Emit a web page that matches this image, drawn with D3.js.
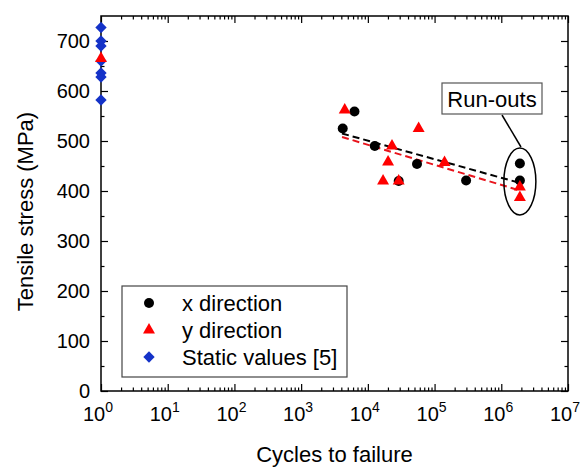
<!DOCTYPE html>
<html>
<head>
<meta charset="utf-8">
<script src="https://cdn.jsdelivr.net/npm/d3@7"></script>
<style>
  body { margin: 0; background: white; }
  text { font-family: "Liberation Sans", Arial, sans-serif; }
</style>
</head>
<body>
<div id="chart"></div>
<script>
// data
const xDirCycles = [4200, 6300, 12700, 29000, 54500, 297000, 1.9e6, 1.9e6];
const xDirStress = [525, 559, 490, 420, 454, 421, 455, 421];
const yDirCycles = [1, 4500, 16900, 20100, 23000, 29000, 57700, 141000, 1.9e6, 1.9e6];
const yDirStress = [665, 562, 420, 458, 490, 420, 525, 457, 408, 387];
const staticCycles = [1, 1, 1, 1, 1, 1, 1];
const staticStress = [727, 700, 690, 660, 636, 628, 582];
// fit lines (end points)
const fitCycles = [4100, 1.8e6];
const fitXStress = [515, 417];
const fitYStress = [508, 402];
const xTickExp = [0, 1, 2, 3, 4, 5, 6, 7];
const yTicks = [0, 100, 200, 300, 400, 500, 600, 700];
const legendLabels = ['x direction', 'y direction', 'Static values [5]'];

const width = 585, height = 468;
const margin = { top: 16, right: 17, bottom: 77, left: 101 };

const svg = d3.select('#chart')
  .append('svg')
  .attr('width', width)
  .attr('height', height)
  .style('background', 'white');

const xScale = d3.scaleLog()
  .domain([1, 1e7])
  .range([margin.left, width - margin.right]);

const yScale = d3.scaleLinear()
  .domain([0, 750])
  .range([height - margin.bottom, margin.top]);

const x0 = margin.left, x1 = width - margin.right;
const y0 = height - margin.bottom, y1 = margin.top;

// minor ticks
const majorX = xTickExp.map(e => Math.pow(10, e));
const minorX = [];
xTickExp.slice(0, -1).forEach(e => {
  for (let m = 2; m <= 9; m++) minorX.push(m * Math.pow(10, e));
});
const minorY = d3.range(50, 750, 100);

function styleAxis(g) {
  g.select('.domain').remove();
  g.selectAll('line').attr('stroke', '#000').attr('stroke-width', 1.2);
}

// bottom
svg.append('g').attr('transform', `translate(0,${y0})`)
  .call(d3.axisBottom(xScale).tickValues(majorX).tickSize(-7).tickFormat(''))
  .call(styleAxis);
svg.append('g').attr('transform', `translate(0,${y0})`)
  .call(d3.axisBottom(xScale).tickValues(minorX).tickSize(-3.5).tickFormat(''))
  .call(styleAxis);
// top
svg.append('g').attr('transform', `translate(0,${y1})`)
  .call(d3.axisTop(xScale).tickValues(majorX).tickSize(-7).tickFormat(''))
  .call(styleAxis);
svg.append('g').attr('transform', `translate(0,${y1})`)
  .call(d3.axisTop(xScale).tickValues(minorX).tickSize(-3.5).tickFormat(''))
  .call(styleAxis);
// left
svg.append('g').attr('transform', `translate(${x0},0)`)
  .call(d3.axisLeft(yScale).tickValues(yTicks).tickSize(-7).tickFormat(''))
  .call(styleAxis);
svg.append('g').attr('transform', `translate(${x0},0)`)
  .call(d3.axisLeft(yScale).tickValues(minorY).tickSize(-3.5).tickFormat(''))
  .call(styleAxis);
// right
svg.append('g').attr('transform', `translate(${x1},0)`)
  .call(d3.axisRight(yScale).tickValues(yTicks).tickSize(-7).tickFormat(''))
  .call(styleAxis);
svg.append('g').attr('transform', `translate(${x1},0)`)
  .call(d3.axisRight(yScale).tickValues(minorY).tickSize(-3.5).tickFormat(''))
  .call(styleAxis);

// frame
svg.append('rect')
  .attr('x', x0).attr('y', y1)
  .attr('width', x1 - x0).attr('height', y0 - y1)
  .attr('fill', 'none').attr('stroke', '#000').attr('stroke-width', 1.5);

// y tick labels
svg.append('g').selectAll('text')
  .data(yTicks).enter().append('text')
  .attr('x', x0 - 11)
  .attr('y', d => yScale(d))
  .attr('dy', '0.36em')
  .attr('text-anchor', 'end')
  .style('font-size', '20px')
  .text(d => d);

// x tick labels 10^n
const xl = svg.append('g').selectAll('text')
  .data(xTickExp).enter().append('text')
  .attr('x', d => xScale(Math.pow(10, d)) - 3)
  .attr('y', 421)
  .attr('text-anchor', 'middle')
  .style('font-size', '20px');
xl.append('tspan').text('10');
xl.append('tspan').attr('dy', -9).style('font-size', '14px').text(d => d);

// axis titles
svg.append('text')
  .attr('x', (x0 + x1) / 2)
  .attr('y', 462)
  .attr('text-anchor', 'middle')
  .style('font-size', '22px')
  .text('Cycles to failure');

svg.append('text')
  .attr('transform', `translate(33,${(y0 + y1) / 2 + 8})rotate(-90)`)
  .attr('text-anchor', 'middle')
  .style('font-size', '22px')
  .text('Tensile stress (MPa)');

// fit lines
const line = d3.line().x(d => xScale(d[0])).y(d => yScale(d[1]));
svg.append('path')
  .datum(d3.zip(fitCycles, fitYStress))
  .attr('d', line).attr('fill', 'none')
  .attr('stroke', '#e8141c').attr('stroke-width', 2).attr('stroke-dasharray', '7,4');
svg.append('path')
  .datum(d3.zip(fitCycles, fitXStress))
  .attr('d', line).attr('fill', 'none')
  .attr('stroke', '#000').attr('stroke-width', 2).attr('stroke-dasharray', '7,4');

const diamond = d3.symbol().type(d3.symbolSquare).size(64);
const triangle = d3.symbol().type(d3.symbolTriangle).size(62);

// static values
svg.append('g').selectAll('path')
  .data(d3.zip(staticCycles, staticStress)).enter().append('path')
  .attr('d', diamond)
  .attr('transform', d => `translate(${xScale(d[0])},${yScale(d[1])})rotate(45)`)
  .attr('fill', '#1432c8');

// x direction
svg.append('g').selectAll('circle')
  .data(d3.zip(xDirCycles, xDirStress)).enter().append('circle')
  .attr('cx', d => xScale(d[0]))
  .attr('cy', d => yScale(d[1]))
  .attr('r', 5)
  .attr('fill', '#000');

// y direction
svg.append('g').selectAll('path')
  .data(d3.zip(yDirCycles, yDirStress)).enter().append('path')
  .attr('d', triangle)
  .attr('transform', d => `translate(${xScale(d[0])},${yScale(d[1])})`)
  .attr('fill', '#f00');

// run-outs annotation
svg.append('ellipse')
  .attr('cx', xScale(1.9e6))
  .attr('cy', yScale(419))
  .attr('rx', 16)
  .attr('ry', yScale(419) - yScale(486))
  .attr('fill', 'none')
  .attr('stroke', '#000').attr('stroke-width', 1.5);

svg.append('line')
  .attr('x1', 502).attr('y1', 115)
  .attr('x2', 521).attr('y2', 147)
  .attr('stroke', '#000').attr('stroke-width', 1.5);

svg.append('rect')
  .attr('x', 442).attr('y', 83)
  .attr('width', 100).attr('height', 31)
  .attr('fill', 'white')
  .attr('stroke', '#555').attr('stroke-width', 1.2);
svg.append('text')
  .attr('x', 492).attr('y', 107)
  .attr('text-anchor', 'middle')
  .style('font-size', '22px')
  .text('Run-outs');

// legend
const legend = svg.append('g');
legend.append('rect')
  .attr('x', 122).attr('y', 286)
  .attr('width', 225).attr('height', 91)
  .attr('fill', 'white')
  .attr('stroke', '#444').attr('stroke-width', 1.2);

const rows = legend.selectAll('g.row')
  .data(legendLabels).enter().append('g')
  .attr('class', 'row')
  .attr('transform', (d, i) => `translate(149,${303 + i * 27})`);

rows.each(function(d, i) {
  const g = d3.select(this);
  if (i === 0) g.append('circle').attr('r', 5).attr('fill', '#000');
  if (i === 1) g.append('path').attr('d', triangle).attr('fill', '#f00');
  if (i === 2) g.append('path').attr('d', diamond).attr('transform', 'rotate(45)').attr('fill', '#1432c8');
});
rows.append('text')
  .attr('x', 33)
  .attr('dy', '0.36em')
  .style('font-size', '22px')
  .text(d => d);
</script>
</body>
</html>
